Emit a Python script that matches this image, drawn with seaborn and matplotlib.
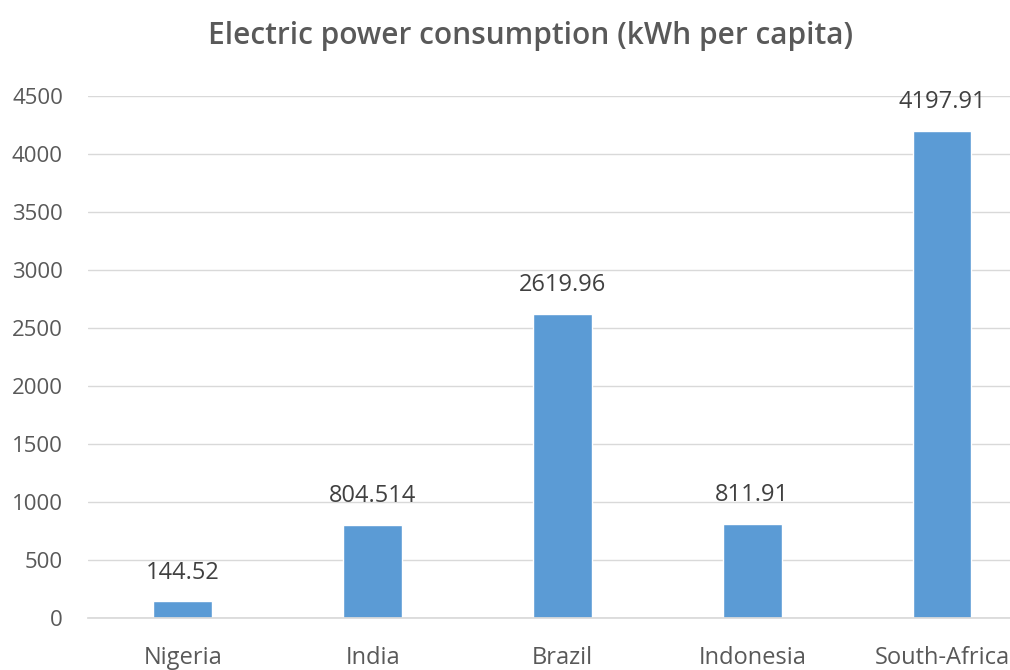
import matplotlib
matplotlib.use("Agg")
import matplotlib.pyplot as plt
import seaborn as sns
import pandas as pd

countries = ["Nigeria", "India", "Brazil", "Indonesia", "South-Africa"]
consumption = [144.52, 804.514, 2619.96, 811.91, 4197.91]
value_labels = ["144.52", "804.514", "2619.96", "811.91", "4197.91"]
yticks = [0, 500, 1000, 1500, 2000, 2500, 3000, 3500, 4000, 4500]

sns.set_theme(style="white")
plt.rcParams['font.family'] = ['Open Sans', 'DejaVu Sans']

df = pd.DataFrame({"country": countries, "value": consumption})

fig = plt.figure(figsize=(10.1, 6.7), dpi=100)
ax = fig.add_axes([0.0871, 0.0776, 0.9396, 0.779])
sns.barplot(data=df, x="country", y="value", color="#5b9bd5", width=0.31,
            saturation=1, ax=ax)

ax.set_ylim(0, 4500)
ax.set_xlim(-0.5, 4.5)
ax.set_yticks(yticks)
ax.set_yticklabels([str(t) for t in yticks])
ax.yaxis.grid(True, color="#d9d9d9", linewidth=1)
ax.set_axisbelow(True)
for s in ["top", "right", "left"]:
    ax.spines[s].set_visible(False)
ax.spines["bottom"].set_color("#d9d9d9")
ax.tick_params(axis="both", length=0, colors="#595959")
ax.tick_params(axis="y", pad=18, labelsize=16)
ax.tick_params(axis="x", pad=20, labelsize=17)
ax.set_xlabel("")
ax.set_ylabel("")

for i, (v, lab) in enumerate(zip(consumption, value_labels)):
    ax.annotate(lab, (i, v), xytext=(0, 12), textcoords="offset points",
                ha="center", va="bottom", fontsize=17, color="#404040")

fig.text(0.525, 0.947, "Electric power consumption (kWh per capita)",
         ha="center", va="center", fontsize=21.5, fontweight="semibold", color="#595959")

fig.savefig("out.png", dpi=100)
